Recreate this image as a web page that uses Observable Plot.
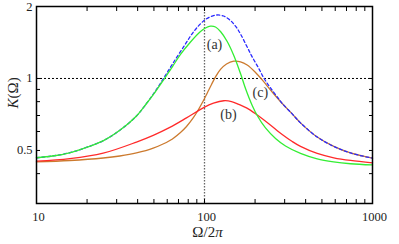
<!DOCTYPE html>
<html><head><meta charset="utf-8">
<script src="https://cdn.jsdelivr.net/npm/d3@7"></script>
<script src="https://cdn.jsdelivr.net/npm/@observablehq/plot@0.6"></script>
<style>
body{margin:0;background:#fff}
#chart svg text{font-family:"Liberation Serif","Times New Roman","DejaVu Serif",serif !important;}
</style>
</head><body><div id="chart"></div>
<script>
// Curve (a): green
const curveA = [[10,0.466],[12.45,0.474],[15.72,0.489],[19.84,0.515],[25.05,0.550],[31.19,0.606],[39.37,0.697],[45.16,0.786],[51.09,0.882],[57.24,0.990],[64.5,1.122],[71.97,1.260],[82.54,1.421],[94.67,1.572],[101.4,1.626],[108.6,1.655],[116.3,1.642],[124.5,1.572],[136.5,1.428],[149.4,1.248],[163.8,1.049],[175.4,0.908],[192.3,0.771],[205.9,0.700],[230.7,0.621],[264.7,0.561],[303.5,0.522],[372.8,0.486],[468.6,0.461],[586.2,0.448],[739.6,0.440],[1000,0.435]];
// Curve (b): red
const curveB = [[10,0.451],[15.79,0.462],[24.95,0.487],[39.37,0.542],[49.52,0.578],[62.17,0.624],[78.15,0.684],[98.24,0.753],[113.1,0.788],[130.3,0.807],[144.8,0.801],[160.0,0.779],[177.8,0.753],[201.2,0.712],[241.3,0.647],[290.1,0.583],[332.7,0.545],[372.8,0.520],[468.6,0.486],[588.4,0.466],[739.6,0.454],[1000,0.444]];
// Curve (c): orange
const curveC = [[10,0.448],[15.79,0.454],[24.95,0.465],[31.32,0.474],[39.37,0.488],[49.52,0.511],[62.17,0.550],[71.97,0.595],[78.15,0.630],[85.63,0.684],[92.1,0.742],[98.24,0.805],[104.2,0.874],[110.1,0.944],[116.3,1.015],[124.5,1.091],[135.2,1.150],[149.4,1.181],[163.8,1.174],[179.5,1.139],[201.2,1.060],[220.6,0.986],[252.9,0.878],[290.1,0.786],[332.7,0.711],[372.8,0.652],[468.6,0.569],[588.4,0.520],[739.6,0.488],[1000,0.464]];
// Dashed blue envelope
const curveD = [[10,0.466],[12.45,0.474],[15.72,0.489],[19.84,0.515],[25.05,0.550],[31.19,0.606],[39.37,0.697],[45.16,0.786],[51.09,0.887],[57.24,1.005],[64.5,1.150],[75.33,1.361],[86.35,1.572],[99.04,1.743],[108.6,1.813],[119.0,1.843],[129.8,1.825],[142.8,1.748],[155.0,1.634],[163.8,1.535],[179.5,1.354],[193.1,1.224],[210.5,1.101],[225.4,1.005],[247.1,0.913],[276.9,0.821],[290.1,0.786],[332.7,0.711],[372.8,0.652],[468.6,0.569],[588.4,0.520],[739.6,0.488],[1000,0.464]];

const xMajor = [10, 100, 1000];
const xMinor = [20,30,40,50,60,70,80,90,200,300,400,500,600,700,800,900];
const yMajor = [0.5, 1, 2];
const yMinor = [0.4,0.6,0.7,0.8,0.9];
const refX = [100];
const refY = [1];
const labels = [{t:"(a)", x:114.7, y:1.387},{t:"(b)", x:139, y:0.707},{t:"(c)", x:215, y:0.874}];

const line = (data, stroke, extra={}) => Plot.line(data, {x: d=>d[0], y: d=>d[1], stroke, strokeWidth: 1.3, curve: "catmull-rom", ...extra});
const allX = xMajor.concat(xMinor), allY = yMajor.concat(yMinor);
const serif = "'Liberation Serif','Times New Roman','DejaVu Serif',serif";

const plot = Plot.plot({
  width: 399, height: 244,
  marginLeft: 36, marginRight: 27, marginTop: 6, marginBottom: 41,
  style: {fontSize: "12.5px", fontFamily: serif, background: "#fff", color: "#000"},
  x: {type: "log", domain: [10, 1000]},
  y: {type: "log", domain: [0.3, 2]},
  marks: [
    Plot.ruleX(refX, {stroke: "#666", strokeWidth: 1.3, strokeDasharray: "1.5,1.5"}),
    Plot.ruleY(refY, {stroke: "#000", strokeWidth: 1, strokeDasharray: "2,2"}),
    line(curveC, "#cc7a2e"),
    line(curveB, "#ff2a2a"),
    line(curveD, "#2a2aff", {strokeDasharray: "3,2.5"}),
    line(curveA, "#33ee33"),
    Plot.text(labels, {x:"x", y:"y", text:"t", fontSize: 14, fill: "#333"}),
    Plot.axisX(allX, {anchor: "bottom", tickSize: -4, tickFormat: () => "", label: null}),
    Plot.axisX(allX, {anchor: "top", tickSize: -4, tickFormat: () => "", label: null}),
    Plot.axisY(allY, {anchor: "left", tickSize: -4, tickFormat: () => "", label: null}),
    Plot.axisY(allY, {anchor: "right", tickSize: -4, tickFormat: () => "", label: null}),
    Plot.axisX(xMajor, {anchor: "bottom", tickSize: 0, tickPadding: 9, dx: 2, tickFormat: d => String(d), label: null, fill: "#222"}),
    Plot.axisY(yMajor, {anchor: "left", tickSize: 0, tickPadding: 4, tickFormat: d => String(d), label: null, fill: "#222"}),
    Plot.text(["Ω/2π"], {frameAnchor: "bottom", lineAnchor: "middle", dy: 29, dx: 3, fontSize: 15, fill: "#222"}),
    Plot.text(["K(Ω)"], {frameAnchor: "left", dx: -23.5, dy: 3.5, rotate: -90, fontSize: 15, fill: "#222"}),
    Plot.frame({stroke: "#000", strokeWidth: 1.5})
  ]
});
document.getElementById("chart").appendChild(plot);
d3.select(plot).selectAll("text").style("font-family", serif);
// italicize math symbols while keeping the same text
d3.select(plot).selectAll("text").each(function(){
  const s = this.textContent;
  if (s === "K(Ω)") { d3.select(this).text(null); d3.select(this).append("tspan").attr("font-style","italic").text("K"); d3.select(this).append("tspan").text("(Ω)"); }
  else if (s === "Ω/2π") { d3.select(this).text(null); d3.select(this).append("tspan").text("Ω/2"); d3.select(this).append("tspan").attr("font-style","italic").text("π"); }
});
</script></body></html>
